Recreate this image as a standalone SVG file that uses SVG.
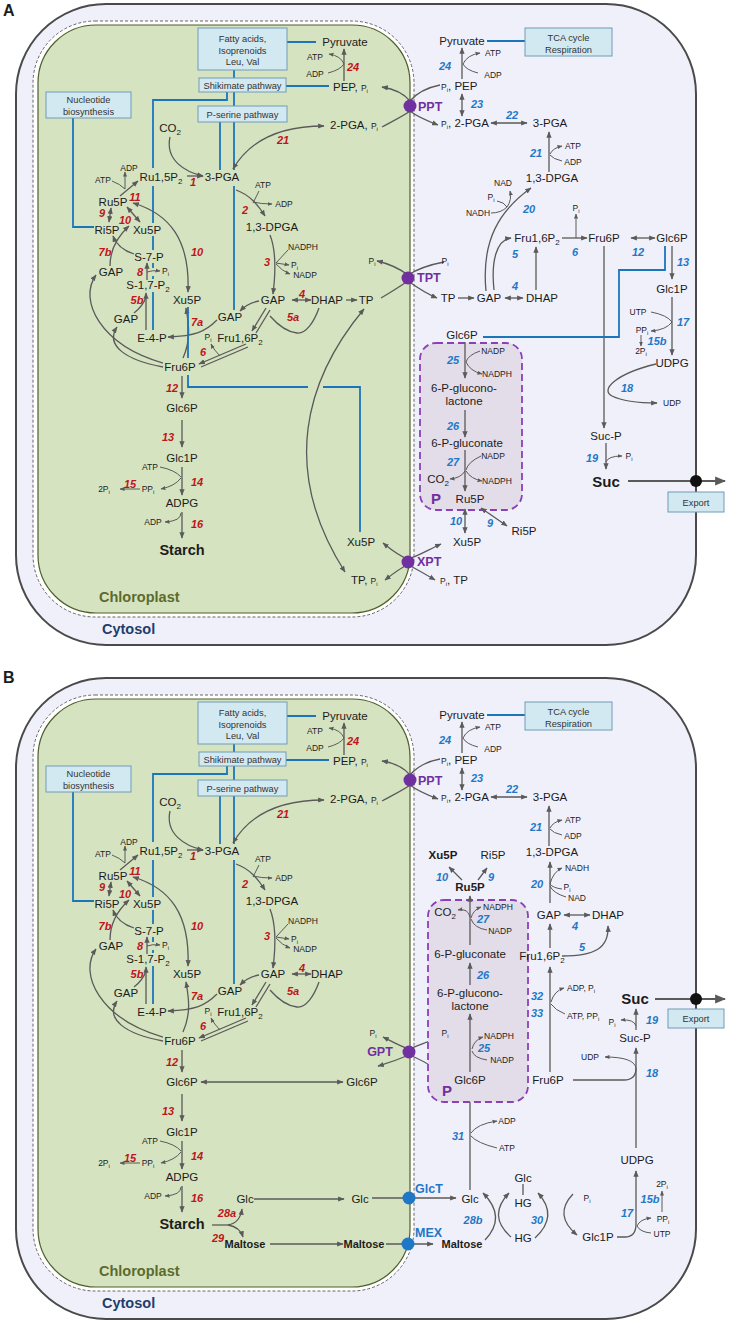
<svg xmlns="http://www.w3.org/2000/svg" width="730" height="1322" viewBox="0 0 730 1322">
<defs>
<marker id="ah" viewBox="0 0 10 10" refX="9" refY="5" markerWidth="5" markerHeight="5" orient="auto-start-reverse"><path d="M0,1L10,5L0,9z" fill="#5a5a5a"/></marker>
</defs>
<style>
text{font-family:"Liberation Sans",Arial,Helvetica,sans-serif;fill:#1c1c1c;text-anchor:middle;font-size:11.5px}
.s{font-size:8.5px}
.sub{font-size:8px}
.si{font-size:6px}
.st{text-anchor:start}
.r{font-size:11px;font-weight:bold;font-style:italic;fill:#c0141c}
.n{font-size:11px;font-weight:bold;font-style:italic;fill:#1f78c6}
.bt{font-size:9.3px;fill:#333}
.bd{font-weight:bold}
.tr{font-size:12.5px;font-weight:bold;fill:#7030a0}
.tb{font-size:12.5px;font-weight:bold;fill:#1f78c6}
.lab{font-size:14.5px;font-weight:bold}
.pl{font-size:11px;font-weight:bold}
.cyt{fill:#f0f0fa;stroke:#4a4a4a;stroke-width:2}
.env{fill:#fff;stroke:#666;stroke-width:1;stroke-dasharray:3 2}
.chl{fill:#d6e3c0;stroke:#4e5e2c;stroke-width:1.2}
.bx{fill:#d3e9f1;stroke:#6f9cb6;stroke-width:1}
.bl{fill:none;stroke:#1b75bb;stroke-width:1.8}
.a{fill:none;stroke:#5a5a5a;stroke-width:1.3;marker-end:url(#ah)}
.d{marker-start:url(#ah)}
.l{fill:none;stroke:#5a5a5a;stroke-width:1.3}
.w{stroke-width:1}
.pbox{fill:#e3dde9;stroke:#8a40b8;stroke-width:1.8;stroke-dasharray:7 4}
.big{stroke-width:2.2}
</style>

<text class="bd st" x="3" y="16" style="font-size:16px">A</text>
<text class="bd st" x="3" y="683" style="font-size:16px">B</text>

<!-- ================= PANEL A ================= -->
<g id="panelA">
<g id="a-frame">
<rect class="cyt" x="16" y="4" width="680" height="641" rx="90"/>
<rect class="env" x="33" y="21" width="381" height="596" rx="62"/>
<rect class="chl" x="38" y="25" width="372" height="588" rx="58"/>
<text class="lab st" x="99" y="602" style="fill:#5b6b2e">Chloroplast</text>
<text class="lab st" x="102" y="634" style="fill:#1f3d6e">Cytosol</text>
</g>

<g id="a-conn-chl">
<path class="bl" d="M287 42H316M286 86H329M234 70V78M234 92V106M234 122V170M234 186V310M220 122V170M227 92V100H153V168M153 186V223M153 236V250M153 263V268M153 276V279M153 292V330M73 118V227H94"/>
<path class="a" d="M344 81V49"/>
<path class="l w" d="M328 73Q340 70 344 64"/>
<path class="a w" d="M344 64Q341 56 329 54"/>
<path class="a" d="M170 137C165 160 185 172 203 176"/>
<path class="a" d="M187 176H203"/>
<path class="a d" d="M233 169C251 138 283 126 324 126"/>
<path class="a" d="M120 196L138 181"/>
<path class="l w" d="M112 181Q120 184 125 189"/>
<path class="a w" d="M125 189V172"/>
<path class="a" d="M236 190C250 195 258 205 265 216"/>
<path class="l w" d="M259 191Q256 197 253 203"/>
<path class="a w" d="M253 202Q261 204 272 204"/>
<path class="a" d="M270 235C276 250 276 270 273 294"/>
<path class="l w" d="M288 250L276 263"/>
<path class="a w" d="M276 263L289 265"/>
<path class="a w" d="M276 264Q282 271 290 274"/>
<path class="a d" d="M292 300H311"/>
<path class="a" d="M259 301Q248 303 240 311"/>
<path class="a" d="M266 308L252 331"/>
<path class="l" d="M270 310L256 333"/>
<path class="l" d="M319 308C314 322 306 334 297 333C287 332 277 324 270 316"/>
<path class="a" d="M246 344L199 364"/>
<path class="l" d="M248 347L201 367"/>
<path class="a w" d="M220 356Q214 350 211 344"/>
<path class="a" d="M182 376V398"/>
<path class="a" d="M182 420V447"/>
<path class="a" d="M182 467V495"/>
<path class="l w" d="M160 467Q175 470 181 477"/>
<path class="a w" d="M181 478Q175 486 161 489"/>
<path class="a w" d="M140 489H120"/>
<path class="a" d="M182 512V538"/>
<path class="a w" d="M181 513Q181 521 165 522"/>
<path class="a d" d="M111 208L109 222"/>
<path class="a d" d="M127 207L140 222"/>
<path class="a d" d="M133 203C170 214 190 240 188 292"/>
<path class="a" d="M134 254Q118 249 113 236"/>
<path class="a" d="M110 266C110 250 118 236 129 226"/>
<path class="a" d="M147 280V263"/>
<path class="a w" d="M147 272Q152 270 160 271"/>
<path class="a" d="M146 330V293"/>
<path class="l" d="M134 313Q143 306 146 297"/>
<path class="a" d="M183 358C191 340 189 325 186 308"/>
<path class="a" d="M217 320C205 332 195 336 168 337"/>
<path class="a" d="M163 363C100 345 78 300 96 275"/>
<path class="a" d="M163 367C125 360 105 345 117 327"/>
<!-- A only -->
<path class="a" d="M346 300H357"/>
<path class="a d" d="M364 309C305 380 280 470 345 572"/>
<path class="bl" d="M188 307V358M188 375V387H308M323 387H360V532"/>
</g>

<g id="a-conn-cyt">
<path class="bl" d="M487 41H525"/>
<path class="a" d="M462 79V48"/>
<path class="l w" d="M478 73Q466 70 463 64"/>
<path class="a w" d="M463 64Q467 55 480 53"/>
<path class="a d" d="M462 94V116"/>
<path class="a d" d="M491 123H527"/>
<path class="a" d="M549 172V132"/>
<path class="a w" d="M550 154Q553 148 562 146"/>
<path class="l w" d="M562 161Q553 159 550 155"/>
<path class="a" d="M440 85C425 88 415 95 410 101C405 95 395 89 382 87"/>
<path class="a" d="M382 127C395 120 405 115 410 111C415 115 425 120 438 125"/>
<!-- A only -->
<path class="a" d="M444 262C428 265 416 270 408 275C400 269 390 264 377 261"/>
<path class="a" d="M381 298C393 291 402 285 408 281C415 286 425 293 437 298"/>
<path class="a" d="M486 291C481 240 500 210 531 188"/>
<path class="l w" d="M491 213Q501 213 507 207"/>
<path class="l w" d="M497 201Q504 202 507 207"/>
<path class="a w" d="M507 207Q512 200 510 191"/>
<path class="a" d="M458 298H474"/>
<path class="a d" d="M505 298H523"/>
<path class="a" d="M494 290C491 262 496 240 511 238"/>
<path class="a" d="M536 290V247"/>
<path class="a" d="M562 238H587"/>
<path class="a w" d="M576 238V214"/>
<path class="a d" d="M631 238H655"/>
<path class="a" d="M672 246V279"/>
<path class="a" d="M672 297V355"/>
<path class="l w" d="M651 312Q667 315 672 322"/>
<path class="a w" d="M672 322Q666 330 651 331"/>
<path class="a w" d="M641 335V346"/>
<path class="a" d="M604 246V428"/>
<path class="a" d="M656 364C615 374 600 390 612 396C622 401 640 403 657 403"/>
<path class="bl" d="M483 337H619V270H665V246"/>
<path class="a d" d="M383 543C394 552 401 557 408 559C416 557 428 550 441 544"/>
<path class="a d" d="M385 580C395 572 402 567 408 565C415 568 425 574 435 580"/>
<path class="a" d="M606 443V469"/>
<path class="a w" d="M606 462Q608 456 622 456"/>
<path class="a big" d="M628 481H725"/>
</g>

<g id="a-pbox">
<rect class="pbox" x="420" y="343" width="102" height="167" rx="16"/>
<text class="bd" x="436" y="504" style="font-size:15px;fill:#7030a0">P</text>
<path class="a" d="M465 342V378"/>
<path class="l w" d="M480 351Q468 355 466 362"/>
<path class="a w" d="M466 362Q470 371 482 374"/>
<path class="a" d="M465 410V437"/>
<path class="a" d="M465 450V491"/>
<path class="l w" d="M481 456Q468 462 466 470"/>
<path class="a w" d="M466 471Q471 479 482 481"/>
<path class="a w" d="M465 471Q461 478 450 479"/>
<path class="a d" d="M465 509V533"/>
<path class="a d" d="M481 508L507 526"/>
</g>

<!-- A chloroplast nodes -->
<g id="a-fatty"><rect class="bx" x="198" y="28" width="89" height="42"/><text class="bt" x="242.5" y="41.5">Fatty acids,</text><text class="bt" x="242.5" y="53.5">Isoprenoids</text><text class="bt" x="242.5" y="65">Leu, Val</text></g>
<g id="a-shik"><rect class="bx" x="199" y="78" width="87" height="14"/><text class="bt" x="242.5" y="88.5">Shikimate pathway</text></g>
<g id="a-pser"><rect class="bx" x="198" y="106" width="89" height="16"/><text class="bt" x="242.5" y="117.5">P-serine pathway</text></g>
<g id="a-nuc"><rect class="bx" x="46" y="92" width="85" height="26"/><text class="bt" x="88.5" y="103">Nucleotide</text><text class="bt" x="88.5" y="115">biosynthesis</text></g>
<g id="a-pyr-c"><text x="345" y="46">Pyruvate</text></g>
<g id="a-pep-c"><text class="st" x="333" y="91">PEP, <tspan class="s">P<tspan class="si" dy="2">i</tspan></tspan></text></g>
<g id="a-co2-c"><text x="170" y="132">CO<tspan class="sub" dy="3">2</tspan></text></g>
<g id="a-2pga-c"><text class="st" x="330" y="129">2-PGA, <tspan class="s">P<tspan class="si" dy="2">i</tspan></tspan></text></g>
<g id="a-3pga-c"><text x="222" y="181">3-PGA</text></g>
<g id="a-rubp"><text x="161" y="181">Ru1,5P<tspan class="sub" dy="3">2</tspan></text></g>
<g id="a-ru5p-c"><text x="113" y="206">Ru5P</text></g>
<g id="a-dpga-c"><text x="272" y="231">1,3-DPGA</text></g>
<g id="a-ri5p-c"><text x="107" y="234">Ri5P</text></g>
<g id="a-xu5p-c1"><text x="147" y="234">Xu5P</text></g>
<g id="a-s7p"><text x="149" y="261">S-7-P</text></g>
<g id="a-gap-c1"><text x="111" y="276">GAP</text></g>
<g id="a-sbp"><text x="148" y="289">S-1,7-P<tspan class="sub" dy="3">2</tspan></text></g>
<g id="a-gap-c2"><text x="273" y="304">GAP</text></g>
<g id="a-dhap-c"><text x="327" y="304">DHAP</text></g>
<g id="a-xu5p-c2"><text x="187" y="304">Xu5P</text></g>
<g id="a-gap-c3"><text x="126" y="323">GAP</text></g>
<g id="a-gap-c4"><text x="230" y="321">GAP</text></g>
<g id="a-e4p"><text x="152" y="342">E-4-P</text></g>
<g id="a-fbp-c"><text x="240" y="342">Fru1,6P<tspan class="sub" dy="3">2</tspan></text></g>
<g id="a-f6p-c"><text x="180" y="371">Fru6P</text></g>
<g id="a-g6p-c"><text x="182" y="412">Glc6P</text></g>
<g id="a-g1p-c"><text x="182" y="462">Glc1P</text></g>
<g id="a-adpg"><text x="182" y="507">ADPG</text></g>
<g id="a-starch"><text class="bd" x="182" y="555" style="font-size:14.5px">Starch</text></g>
<g id="a-tp-c"><text x="366" y="304">TP</text></g>
<g id="a-xu5p-c3"><text x="361" y="546">Xu5P</text></g>
<g id="a-tppi-c"><text class="st" x="351" y="584">TP, <tspan class="s">P<tspan class="si" dy="2">i</tspan></tspan></text></g>
<g id="a-cof-c">
<text class="s" x="315" y="60">ATP</text>
<text class="s" x="315" y="77">ADP</text>
<text class="s" x="103" y="183">ATP</text>
<text class="s" x="129" y="171">ADP</text>
<text class="s" x="263" y="188">ATP</text>
<text class="s" x="284" y="207">ADP</text>
<text class="s" x="303" y="250">NADPH</text>
<text class="s st" x="291" y="268">P<tspan class="si" dy="2">i</tspan></text>
<text class="s" x="305" y="278">NADP</text>
<text class="s st" x="162" y="274">P<tspan class="si" dy="2">i</tspan></text>
<text class="s" x="208" y="340">P<tspan class="si" dy="2">i</tspan></text>
<text class="s" x="150" y="470">ATP</text>
<text class="s" x="148" y="492">PP<tspan class="si" dy="2">i</tspan></text>
<text class="s" x="104" y="492">2P<tspan class="si" dy="2">i</tspan></text>
<text class="s" x="153" y="525">ADP</text>
</g>
<g id="a-enz-c">
<text class="r" x="353" y="71">24</text>
<text class="r" x="283" y="144">21</text>
<text class="r" x="193" y="186">1</text>
<text class="r" x="135" y="201">11</text>
<text class="r" x="245" y="214">2</text>
<text class="r" x="102" y="217">9</text>
<text class="r" x="125" y="224">10</text>
<text class="r" x="105" y="256">7b</text>
<text class="r" x="197" y="256">10</text>
<text class="r" x="140" y="276">8</text>
<text class="r" x="267" y="266">3</text>
<text class="r" x="302" y="298">4</text>
<text class="r" x="137" y="304">5b</text>
<text class="r" x="197" y="326">7a</text>
<text class="r" x="293" y="321">5a</text>
<text class="r" x="203" y="356">6</text>
<text class="r" x="172" y="392">12</text>
<text class="r" x="168" y="441">13</text>
<text class="r" x="197" y="486">14</text>
<text class="r" x="130" y="488">15</text>
<text class="r" x="197" y="528">16</text>
</g>

<!-- A cytosol nodes -->
<g id="a-tca"><rect class="bx" x="525" y="28" width="87" height="28"/><text class="bt" x="568.5" y="40.5">TCA cycle</text><text class="bt" x="568.5" y="52.5">Respiration</text></g>
<g id="a-pyr-y"><text x="462" y="45">Pyruvate</text></g>
<g id="a-pep-y"><text class="st" x="441" y="90"><tspan class="s">P<tspan class="si" dy="2">i</tspan></tspan><tspan dy="-2">, PEP</tspan></text></g>
<g id="a-ppt"><circle cx="410" cy="106" r="6.5" fill="#7030a0"/><text class="tr st" x="418" y="111">PPT</text></g>
<g id="a-2pga-y"><text class="st" x="441" y="127"><tspan class="s">P<tspan class="si" dy="2">i</tspan></tspan><tspan dy="-2">, 2-PGA</tspan></text></g>
<g id="a-3pga-y"><text x="550" y="127">3-PGA</text></g>
<g id="a-dpga-y"><text x="552" y="182">1,3-DPGA</text></g>
<g id="a-tpt"><circle cx="408" cy="278" r="6.5" fill="#7030a0"/><text class="tr st" x="417" y="282">TPT</text></g>
<g id="a-xpt"><circle cx="408" cy="562" r="6.5" fill="#7030a0"/><text class="tr st" x="417" y="566">XPT</text></g>
<g id="a-tp-y"><text x="448" y="302">TP</text></g>
<g id="a-gap-y"><text x="489" y="302">GAP</text></g>
<g id="a-dhap-y"><text x="542" y="302">DHAP</text></g>
<g id="a-fbp-y"><text x="537" y="242">Fru1,6P<tspan class="sub" dy="3">2</tspan></text></g>
<g id="a-f6p-y"><text x="604" y="242">Fru6P</text></g>
<g id="a-g6p-y1"><text x="672" y="242">Glc6P</text></g>
<g id="a-g1p-y"><text x="672" y="293">Glc1P</text></g>
<g id="a-udpg"><text x="672" y="367">UDPG</text></g>
<g id="a-g6p-y2"><text x="462" y="339">Glc6P</text></g>
<g id="a-6pgl"><text x="464" y="392">6-P-glucono-</text><text x="464" y="405">lactone</text></g>
<g id="a-6pg"><text x="467" y="447">6-P-gluconate</text></g>
<g id="a-co2-y"><text x="438" y="483">CO<tspan class="sub" dy="3">2</tspan></text></g>
<g id="a-ru5p-y"><text x="470" y="503">Ru5P</text></g>
<g id="a-ri5p-y"><text x="524" y="535">Ri5P</text></g>
<g id="a-xu5p-y"><text x="467" y="546">Xu5P</text></g>
<g id="a-pitp-y"><text class="st" x="440" y="584"><tspan class="s">P<tspan class="si" dy="2">i</tspan></tspan><tspan dy="-2">, TP</tspan></text></g>
<g id="a-sucp"><text x="606" y="440">Suc-P</text></g>
<g id="a-suc"><text class="bd" x="606" y="487" style="font-size:15px">Suc</text></g>
<g id="a-exp"><circle cx="696" cy="481" r="6" fill="#111"/><rect class="bx" x="668" y="492" width="56" height="20"/><text class="bt" x="696" y="505.5">Export</text></g>
<g id="a-cof-y">
<text class="s" x="493" y="56">ATP</text>
<text class="s" x="493" y="78">ADP</text>
<text class="s" x="573" y="149">ATP</text>
<text class="s" x="573" y="165">ADP</text>
<text class="s" x="503" y="186">NAD</text>
<text class="s" x="491" y="200">P<tspan class="si" dy="2">i</tspan></text>
<text class="s" x="478" y="216">NADH</text>
<text class="s" x="576" y="211">P<tspan class="si" dy="2">i</tspan></text>
<text class="s" x="372" y="264">P<tspan class="si" dy="2">i</tspan></text>
<text class="s" x="445" y="264">P<tspan class="si" dy="2">i</tspan></text>
<text class="s" x="638" y="315">UTP</text>
<text class="s" x="642" y="333">PP<tspan class="si" dy="2">i</tspan></text>
<text class="s" x="641" y="354">2P<tspan class="si" dy="2">i</tspan></text>
<text class="s" x="672" y="406">UDP</text>
<text class="s" x="493" y="354">NADP</text>
<text class="s" x="497" y="377">NADPH</text>
<text class="s" x="493" y="459">NADP</text>
<text class="s" x="497" y="484">NADPH</text>
<text class="s" x="629" y="459">P<tspan class="si" dy="2">i</tspan></text>
</g>
<g id="a-enz-y">
<text class="n" x="445" y="70">24</text>
<text class="n" x="477" y="108">23</text>
<text class="n" x="512" y="119">22</text>
<text class="n" x="536" y="157">21</text>
<text class="n" x="529" y="213">20</text>
<text class="n" x="515" y="258">5</text>
<text class="n" x="575" y="256">6</text>
<text class="n" x="638" y="256">12</text>
<text class="n" x="683" y="266">13</text>
<text class="n" x="515" y="290">4</text>
<text class="n" x="683" y="326">17</text>
<text class="n" x="657" y="345">15b</text>
<text class="n" x="627" y="392">18</text>
<text class="n" x="453" y="364">25</text>
<text class="n" x="453" y="430">26</text>
<text class="n" x="453" y="466">27</text>
<text class="n" x="456" y="525">10</text>
<text class="n" x="490" y="527">9</text>
<text class="n" x="592" y="462">19</text>
</g>
</g>

<!-- ================= PANEL B ================= -->
<g id="panelB">
<g id="b-shared" transform="translate(0,674)">
<g id="b-frame">
<rect class="cyt" x="16" y="4" width="680" height="641" rx="90"/>
<rect class="env" x="33" y="21" width="381" height="596" rx="62"/>
<rect class="chl" x="38" y="25" width="372" height="588" rx="58"/>
<text class="lab st" x="99" y="602" style="fill:#5b6b2e">Chloroplast</text>
<text class="lab st" x="102" y="634" style="fill:#1f3d6e">Cytosol</text>
</g>
<g id="b-conn-chl">
<path class="bl" d="M287 42H316M286 86H329M234 70V78M234 92V106M234 122V170M234 186V310M220 122V170M227 92V100H153V168M153 186V223M153 236V250M153 263V268M153 276V279M153 292V330M73 118V227H94"/>
<path class="a" d="M344 81V49"/>
<path class="l w" d="M328 73Q340 70 344 64"/>
<path class="a w" d="M344 64Q341 56 329 54"/>
<path class="a" d="M170 137C165 160 185 172 203 176"/>
<path class="a" d="M187 176H203"/>
<path class="a d" d="M233 169C251 138 283 126 324 126"/>
<path class="a" d="M120 196L138 181"/>
<path class="l w" d="M112 181Q120 184 125 189"/>
<path class="a w" d="M125 189V172"/>
<path class="a" d="M236 190C250 195 258 205 265 216"/>
<path class="l w" d="M259 191Q256 197 253 203"/>
<path class="a w" d="M253 202Q261 204 272 204"/>
<path class="a" d="M270 235C276 250 276 270 273 294"/>
<path class="l w" d="M288 250L276 263"/>
<path class="a w" d="M276 263L289 265"/>
<path class="a w" d="M276 264Q282 271 290 274"/>
<path class="a d" d="M292 300H311"/>
<path class="a" d="M259 301Q248 303 240 311"/>
<path class="a" d="M266 308L252 331"/>
<path class="l" d="M270 310L256 333"/>
<path class="l" d="M319 308C314 322 306 334 297 333C287 332 277 324 270 316"/>
<path class="a" d="M246 344L199 364"/>
<path class="l" d="M248 347L201 367"/>
<path class="a w" d="M220 356Q214 350 211 344"/>
<path class="a" d="M182 376V398"/>
<path class="a" d="M182 420V447"/>
<path class="a" d="M182 467V495"/>
<path class="l w" d="M160 467Q175 470 181 477"/>
<path class="a w" d="M181 478Q175 486 161 489"/>
<path class="a w" d="M140 489H120"/>
<path class="a" d="M182 512V538"/>
<path class="a w" d="M181 513Q181 521 165 522"/>
<path class="a d" d="M111 208L109 222"/>
<path class="a d" d="M127 207L140 222"/>
<path class="a d" d="M133 203C170 214 190 240 188 292"/>
<path class="a" d="M134 254Q118 249 113 236"/>
<path class="a" d="M110 266C110 250 118 236 129 226"/>
<path class="a" d="M147 280V263"/>
<path class="a w" d="M147 272Q152 270 160 271"/>
<path class="a" d="M146 330V293"/>
<path class="l" d="M134 313Q143 306 146 297"/>
<path class="a" d="M183 358C191 340 189 325 186 308"/>
<path class="a" d="M217 320C205 332 195 336 168 337"/>
<path class="a" d="M163 363C100 345 78 300 96 275"/>
<path class="a" d="M163 367C125 360 105 345 117 327"/>
</g>
<g id="b-conn-cyt">
<path class="bl" d="M487 41H525"/>
<path class="a" d="M462 79V48"/>
<path class="l w" d="M478 73Q466 70 463 64"/>
<path class="a w" d="M463 64Q467 55 480 53"/>
<path class="a d" d="M462 94V116"/>
<path class="a d" d="M491 123H527"/>
<path class="a" d="M549 172V132"/>
<path class="a w" d="M550 154Q553 148 562 146"/>
<path class="l w" d="M562 161Q553 159 550 155"/>
<path class="a" d="M440 85C425 88 415 95 410 101C405 95 395 89 382 87"/>
<path class="a" d="M382 127C395 120 405 115 410 111C415 115 425 120 438 125"/>
</g>
<g id="b-fatty"><rect class="bx" x="198" y="28" width="89" height="42"/><text class="bt" x="242.5" y="41.5">Fatty acids,</text><text class="bt" x="242.5" y="53.5">Isoprenoids</text><text class="bt" x="242.5" y="65">Leu, Val</text></g>
<g id="b-shik"><rect class="bx" x="199" y="78" width="87" height="14"/><text class="bt" x="242.5" y="88.5">Shikimate pathway</text></g>
<g id="b-pser"><rect class="bx" x="198" y="106" width="89" height="16"/><text class="bt" x="242.5" y="117.5">P-serine pathway</text></g>
<g id="b-nuc"><rect class="bx" x="46" y="92" width="85" height="26"/><text class="bt" x="88.5" y="103">Nucleotide</text><text class="bt" x="88.5" y="115">biosynthesis</text></g>
<g id="b-pyr-c"><text x="345" y="46">Pyruvate</text></g>
<g id="b-pep-c"><text class="st" x="333" y="91">PEP, <tspan class="s">P<tspan class="si" dy="2">i</tspan></tspan></text></g>
<g id="b-co2-c"><text x="170" y="132">CO<tspan class="sub" dy="3">2</tspan></text></g>
<g id="b-2pga-c"><text class="st" x="330" y="129">2-PGA, <tspan class="s">P<tspan class="si" dy="2">i</tspan></tspan></text></g>
<g id="b-3pga-c"><text x="222" y="181">3-PGA</text></g>
<g id="b-rubp"><text x="161" y="181">Ru1,5P<tspan class="sub" dy="3">2</tspan></text></g>
<g id="b-ru5p-c"><text x="113" y="206">Ru5P</text></g>
<g id="b-dpga-c"><text x="272" y="231">1,3-DPGA</text></g>
<g id="b-ri5p-c"><text x="107" y="234">Ri5P</text></g>
<g id="b-xu5p-c1"><text x="147" y="234">Xu5P</text></g>
<g id="b-s7p"><text x="149" y="261">S-7-P</text></g>
<g id="b-gap-c1"><text x="111" y="276">GAP</text></g>
<g id="b-sbp"><text x="148" y="289">S-1,7-P<tspan class="sub" dy="3">2</tspan></text></g>
<g id="b-gap-c2"><text x="273" y="304">GAP</text></g>
<g id="b-dhap-c"><text x="327" y="304">DHAP</text></g>
<g id="b-xu5p-c2"><text x="187" y="304">Xu5P</text></g>
<g id="b-gap-c3"><text x="126" y="323">GAP</text></g>
<g id="b-gap-c4"><text x="230" y="321">GAP</text></g>
<g id="b-e4p"><text x="152" y="342">E-4-P</text></g>
<g id="b-fbp-c"><text x="240" y="342">Fru1,6P<tspan class="sub" dy="3">2</tspan></text></g>
<g id="b-f6p-c"><text x="180" y="371">Fru6P</text></g>
<g id="b-g6p-c"><text x="182" y="412">Glc6P</text></g>
<g id="b-g1p-c"><text x="182" y="462">Glc1P</text></g>
<g id="b-adpg"><text x="182" y="507">ADPG</text></g>
<g id="b-starch"><text class="bd" x="182" y="555" style="font-size:14.5px">Starch</text></g>
<g id="b-cof-c">
<text class="s" x="315" y="60">ATP</text>
<text class="s" x="315" y="77">ADP</text>
<text class="s" x="103" y="183">ATP</text>
<text class="s" x="129" y="171">ADP</text>
<text class="s" x="263" y="188">ATP</text>
<text class="s" x="284" y="207">ADP</text>
<text class="s" x="303" y="250">NADPH</text>
<text class="s st" x="291" y="268">P<tspan class="si" dy="2">i</tspan></text>
<text class="s" x="305" y="278">NADP</text>
<text class="s st" x="162" y="274">P<tspan class="si" dy="2">i</tspan></text>
<text class="s" x="208" y="340">P<tspan class="si" dy="2">i</tspan></text>
<text class="s" x="150" y="470">ATP</text>
<text class="s" x="148" y="492">PP<tspan class="si" dy="2">i</tspan></text>
<text class="s" x="104" y="492">2P<tspan class="si" dy="2">i</tspan></text>
<text class="s" x="153" y="525">ADP</text>
</g>
<g id="b-enz-c">
<text class="r" x="353" y="71">24</text>
<text class="r" x="283" y="144">21</text>
<text class="r" x="193" y="186">1</text>
<text class="r" x="135" y="201">11</text>
<text class="r" x="245" y="214">2</text>
<text class="r" x="102" y="217">9</text>
<text class="r" x="125" y="224">10</text>
<text class="r" x="105" y="256">7b</text>
<text class="r" x="197" y="256">10</text>
<text class="r" x="140" y="276">8</text>
<text class="r" x="267" y="266">3</text>
<text class="r" x="302" y="298">4</text>
<text class="r" x="137" y="304">5b</text>
<text class="r" x="197" y="326">7a</text>
<text class="r" x="293" y="321">5a</text>
<text class="r" x="203" y="356">6</text>
<text class="r" x="172" y="392">12</text>
<text class="r" x="168" y="441">13</text>
<text class="r" x="197" y="486">14</text>
<text class="r" x="130" y="488">15</text>
<text class="r" x="197" y="528">16</text>
</g>
<g id="b-tca"><rect class="bx" x="525" y="28" width="87" height="28"/><text class="bt" x="568.5" y="40.5">TCA cycle</text><text class="bt" x="568.5" y="52.5">Respiration</text></g>
<g id="b-pyr-y"><text x="462" y="45">Pyruvate</text></g>
<g id="b-pep-y"><text class="st" x="441" y="90"><tspan class="s">P<tspan class="si" dy="2">i</tspan></tspan><tspan dy="-2">, PEP</tspan></text></g>
<g id="b-ppt"><circle cx="410" cy="106" r="6.5" fill="#7030a0"/><text class="tr st" x="418" y="111">PPT</text></g>
<g id="b-2pga-y"><text class="st" x="441" y="127"><tspan class="s">P<tspan class="si" dy="2">i</tspan></tspan><tspan dy="-2">, 2-PGA</tspan></text></g>
<g id="b-3pga-y"><text x="550" y="127">3-PGA</text></g>
<g id="b-dpga-y"><text x="552" y="182">1,3-DPGA</text></g>
<g id="b-cof-top">
<text class="s" x="493" y="56">ATP</text>
<text class="s" x="493" y="78">ADP</text>
<text class="s" x="573" y="149">ATP</text>
<text class="s" x="573" y="165">ADP</text>
</g>
<g id="b-enz-top">
<text class="n" x="445" y="70">24</text>
<text class="n" x="477" y="108">23</text>
<text class="n" x="512" y="119">22</text>
<text class="n" x="536" y="157">21</text>
</g>
</g>

<g id="b-conn">
<path class="a d" d="M201 1082H343"/>
<path class="l" d="M212 1225H228"/>
<path class="a" d="M228 1225Q240 1223 242 1209"/>
<path class="a" d="M228 1225Q240 1227 243 1237"/>
<path class="a" d="M254 1199H344"/>
<path class="a" d="M270 1244H343"/>
<path class="a" d="M372 1198H456"/>
<path class="a" d="M386 1244H433"/>
<path class="a d" d="M383 1037C395 1043 402 1047 409 1049C416 1047 428 1041 440 1037"/>
<path class="a d" d="M378 1066C392 1062 402 1058 409 1055C418 1058 430 1065 441 1072"/>
<path class="a" d="M550 903V862"/>
<path class="a w" d="M550 884Q553 872 562 868"/>
<path class="l w" d="M562 889Q553 888 550 884"/>
<path class="l w" d="M566 897Q553 893 550 886"/>
<path class="a d" d="M564 915H590"/>
<path class="a" d="M550 948V924"/>
<path class="a" d="M562 956C595 956 609 948 608 926"/>
<path class="a" d="M550 1072V967"/>
<path class="a w" d="M551 1002Q554 991 564 988"/>
<path class="l w" d="M565 1014Q555 1010 551 1004"/>
<path class="a big" d="M655 999H725"/>
<path class="a" d="M636 1030V1009"/>
<path class="a w" d="M636 1026Q634 1019 621 1020"/>
<path class="l" d="M573 1080H624Q636 1080 636 1068"/>
<path class="a" d="M636 1148V1048"/>
<path class="a w" d="M636 1068Q634 1057 605 1057"/>
<path class="a" d="M617 1237H625Q636 1237 636 1224V1171"/>
<path class="l w" d="M651 1233Q640 1232 637 1226"/>
<path class="a w" d="M637 1226Q640 1219 651 1218"/>
<path class="a w" d="M662 1212V1191"/>
<path class="a" d="M470 1190V1094"/>
<path class="a w" d="M471 1133Q477 1124 497 1121"/>
<path class="l w" d="M497 1148Q477 1143 471 1136"/>
<path class="a" d="M485 1240Q507 1217 483 1193"/>
<path class="a" d="M511 1237Q487 1216 509 1193"/>
<path class="a" d="M535 1238Q559 1216 538 1193"/>
<path class="a" d="M573 1194Q553 1215 577 1235"/>
<path class="l" d="M523 1184V1195"/>
</g>

<g id="b-pbox">
<rect class="pbox" x="428" y="900" width="100" height="202" rx="16"/>
<text class="bd" x="447" y="1096" style="font-size:15px;fill:#7030a0">P</text>
<path class="a" d="M470 1072V1014"/>
<path class="a w" d="M472 1049Q474 1040 483 1037"/>
<path class="l w" d="M487 1060Q474 1058 472 1051"/>
<path class="a" d="M470 985V963"/>
<path class="a" d="M470 945V896"/>
<path class="l w" d="M487 930Q474 928 471 919"/>
<path class="a w" d="M471 918Q473 910 481 907"/>
<path class="a w" d="M470 917Q468 908 458 910"/>
<path class="a" d="M462 880L449 867"/>
<path class="a" d="M478 880L487 868"/>
</g>

<g id="b-g6p-c2"><text x="362" y="1086">Glc6P</text></g>
<g id="b-glc-c1"><text x="245" y="1203">Glc</text></g>
<g id="b-glc-c2"><text x="360" y="1203">Glc</text></g>
<g id="b-malt-c1"><text class="pl" x="245" y="1248">Maltose</text></g>
<g id="b-malt-c2"><text class="pl" x="364" y="1248">Maltose</text></g>
<g id="b-xu5p-y"><text class="bd" x="443" y="859">Xu5P</text></g>
<g id="b-ri5p-y"><text x="493" y="859">Ri5P</text></g>
<g id="b-ru5p-y"><text class="bd" x="470" y="891">Ru5P</text></g>
<g id="b-co2-y"><text x="445" y="916">CO<tspan class="sub" dy="3">2</tspan></text></g>
<g id="b-6pg"><text x="470" y="958">6-P-gluconate</text></g>
<g id="b-6pgl"><text x="470" y="997">6-P-glucono-</text><text x="470" y="1010">lactone</text></g>
<g id="b-g6p-y"><text x="470" y="1084">Glc6P</text></g>
<g id="b-gap-y"><text x="549" y="919">GAP</text></g>
<g id="b-dhap-y"><text x="608" y="919">DHAP</text></g>
<g id="b-fbp-y"><text x="542" y="960">Fru1,6P<tspan class="sub" dy="3">2</tspan></text></g>
<g id="b-f6p-y"><text x="548" y="1084">Fru6P</text></g>
<g id="b-suc"><text class="bd" x="635" y="1004" style="font-size:15px">Suc</text></g>
<g id="b-sucp"><text x="635" y="1042">Suc-P</text></g>
<g id="b-udpg"><text x="637" y="1164">UDPG</text></g>
<g id="b-glc-y"><text x="470" y="1203">Glc</text></g>
<g id="b-malt-y"><text class="pl" x="462" y="1248">Maltose</text></g>
<g id="b-glc-hg"><text x="523" y="1182">Glc</text></g>
<g id="b-hg1"><text x="523" y="1207">HG</text></g>
<g id="b-hg2"><text x="523" y="1242">HG</text></g>
<g id="b-g1p-y"><text x="598" y="1241">Glc1P</text></g>
<g id="b-exp"><circle cx="696" cy="999" r="6" fill="#111"/><rect class="bx" x="668" y="1009" width="56" height="19"/><text class="bt" x="696" y="1022">Export</text></g>
<g id="b-gpt"><circle cx="409" cy="1052" r="6.5" fill="#7030a0"/><text class="tr" x="380" y="1056">GPT</text></g>
<g id="b-glct"><circle cx="409" cy="1198" r="6.5" fill="#1f78c6"/><text class="tb st" x="415" y="1193">GlcT</text></g>
<g id="b-mex"><circle cx="408" cy="1244" r="6.5" fill="#1f78c6"/><text class="tb st" x="415" y="1237">MEX</text></g>
<g id="b-cof">
<text class="s" x="577" y="871">NADH</text>
<text class="s" x="567" y="890">P<tspan class="si" dy="2">i</tspan></text>
<text class="s" x="577" y="901">NAD</text>
<text class="s st" x="567" y="991">ADP, P<tspan class="si" dy="2">i</tspan></text>
<text class="s st" x="567" y="1019">ATP, PP<tspan class="si" dy="2">i</tspan></text>
<text class="s" x="612" y="1025">P<tspan class="si" dy="2">i</tspan></text>
<text class="s" x="590" y="1060">UDP</text>
<text class="s" x="507" y="1124">ADP</text>
<text class="s" x="507" y="1151">ATP</text>
<text class="s" x="498" y="910">NADPH</text>
<text class="s" x="500" y="934">NADP</text>
<text class="s" x="499" y="1039">NADPH</text>
<text class="s" x="502" y="1063">NADP</text>
<text class="s" x="373" y="1036">P<tspan class="si" dy="2">i</tspan></text>
<text class="s" x="445" y="1036">P<tspan class="si" dy="2">i</tspan></text>
<text class="s" x="587" y="1201">P<tspan class="si" dy="2">i</tspan></text>
<text class="s" x="662" y="1187">2P<tspan class="si" dy="2">i</tspan></text>
<text class="s" x="663" y="1222">PP<tspan class="si" dy="2">i</tspan></text>
<text class="s" x="662" y="1237">UTP</text>
</g>
<g id="b-enz">
<text class="n" x="442" y="881">10</text>
<text class="n" x="491" y="881">9</text>
<text class="n" x="483" y="923">27</text>
<text class="n" x="483" y="979">26</text>
<text class="n" x="484" y="1052">25</text>
<text class="n" x="537" y="888">20</text>
<text class="n" x="575" y="930">4</text>
<text class="n" x="582" y="951">5</text>
<text class="n" x="537" y="1000">32</text>
<text class="n" x="537" y="1017">33</text>
<text class="n" x="652" y="1024">19</text>
<text class="n" x="652" y="1077">18</text>
<text class="n" x="458" y="1140">31</text>
<text class="n" x="473" y="1224">28b</text>
<text class="n" x="537" y="1224">30</text>
<text class="n" x="627" y="1217">17</text>
<text class="n" x="650" y="1203">15b</text>
<text class="r" x="227" y="1217">28a</text>
<text class="r" x="218" y="1242">29</text>
</g>
</g>
</svg>
